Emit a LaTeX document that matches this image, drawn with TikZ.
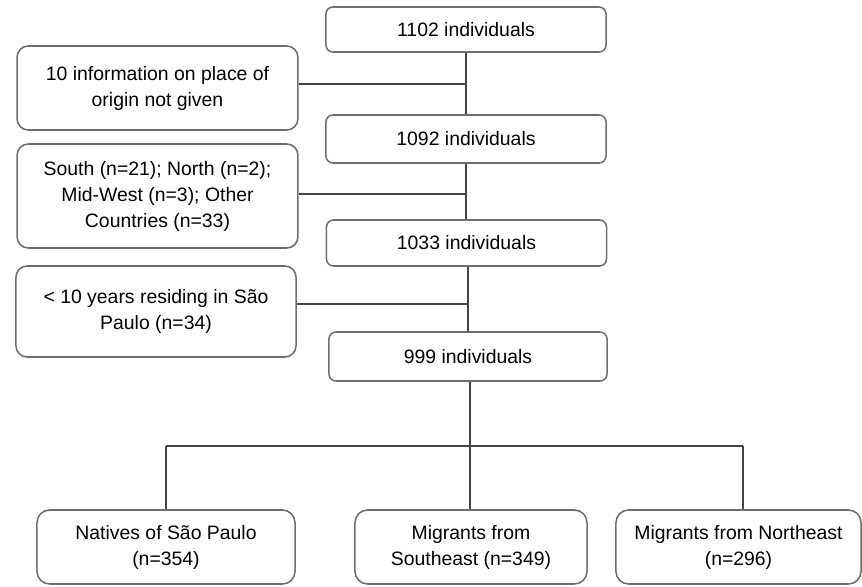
\documentclass[tikz,border=0pt]{standalone}
\usepackage{fontspec}
\setmainfont{Liberation Sans}
\usetikzlibrary{positioning, calc}
\definecolor{cedge}{HTML}{6E6E6E}
\definecolor{cline}{HTML}{454545}
\tikzset{
  every picture/.style={font=\fontsize{13.8}{18.5}\selectfont},
  box/.style={draw=cedge, line width=1.1pt, rounded corners=#1, align=center, inner sep=2pt},
  box/.default=6pt,
  link/.style={draw=cline, line width=0.75pt},
}

\begin{document}
\begin{tikzpicture}[x=0.025cm, y=-0.025cm,
                    count/.style={box=5pt, minimum width=7cm, minimum height=1.18cm},
                    drop/.style={box=8pt, minimum width=7.02cm},
                    group/.style={box=9pt, minimum height=1.85cm}]
  \useasboundingbox (0,0) rectangle (862,586);
  \node[count, minimum height=1.125cm] (n1102) at (466,29.5) {1102 individuals};
  \node[count, minimum height=1.2cm] (n1092) at (466,139) {1092 individuals};
  \node[count, minimum height=1.15cm] (n1033) at (466.5,243) {1033 individuals};
  \node[count, minimum width=6.95cm, minimum height=1.225cm] (n999) at (468,356.5) {999 individuals};
  \node[drop, minimum height=2.1cm] (ex1) at (157.5,88) {10 information on place of\\origin not given};
  \node[drop, minimum height=2.6cm] (ex2) at (157.5,196) {South (n=21); North (n=2);\\Mid-West (n=3); Other\\Countries (n=33)};
  \node[drop, minimum width=7cm, minimum height=2.275cm] (ex3) at (156,311.5) {< 10 years residing in São\\Paulo (n=34)};
  \node[group, minimum width=6.45cm] (natives) at (166,547) {Natives of São Paulo\\(n=354)};
  \node[group, minimum width=5.8cm] (southeast) at (471,547) {Migrants from\\Southeast (n=349)};
  \node[group, minimum width=6.125cm] (northeast) at (738.5,547) {Migrants from Northeast\\(n=296)};
  \coordinate (j1) at (466,84);
  \coordinate (j2) at (467,194);
  \coordinate (j3) at (468,304);
  \coordinate (split) at (470,446);
  \coordinate (lft) at (166,446);
  \coordinate (rgt) at (743,446);
  \draw[link] (n1102.south) -- (n1102.south |- n1092.north);
  \draw[link] (j1 -| ex1.east) -- (j1);
  \draw[link] (n1092.south) -- (n1092.south |- n1033.north);
  \draw[link] (j2 -| ex2.east) -- (j2);
  \draw[link] (j3 |- n1033.south) -- (j3 |- n999.north);
  \draw[link] (j3 -| ex3.east) -- (j3);
  \draw[link] (split |- n999.south) -- (split);
  \draw[link] (lft) -- (rgt);
  \draw[link] (lft) -- (lft |- natives.north);
  \draw[link] (split) -- (split |- southeast.north);
  \draw[link] (rgt) -- (rgt |- northeast.north);
\end{tikzpicture}
\end{document}
